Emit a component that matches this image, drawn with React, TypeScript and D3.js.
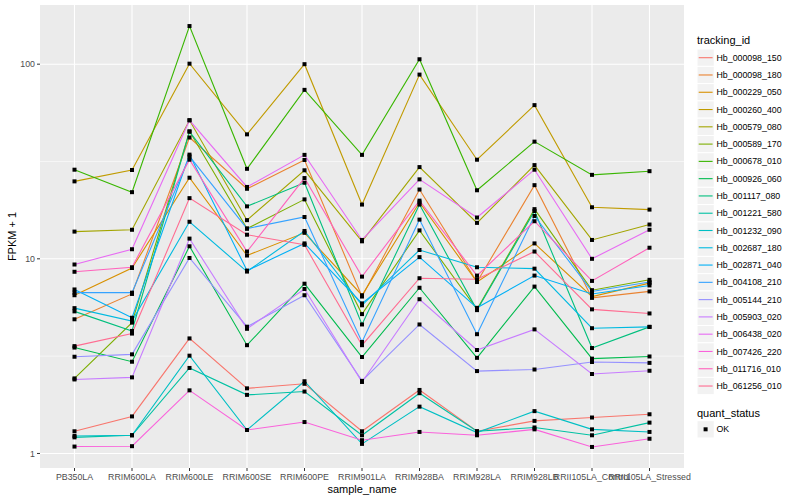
import { useEffect, useRef } from "react";
import * as d3 from "d3";

const samples = [
  "PB350LA", "RRIM600LA", "RRIM600LE", "RRIM600SE", "RRIM600PE", "RRIM901LA",
  "RRIM928BA", "RRIM928LA", "RRIM928LB", "RRII105LA_Control", "RRII105LA_Stressed",
];

const trackingIds = [
  "Hb_000098_150", "Hb_000098_180", "Hb_000229_050", "Hb_000260_400", "Hb_000579_080",
  "Hb_000589_170", "Hb_000678_010", "Hb_000926_060", "Hb_001117_080", "Hb_001221_580",
  "Hb_001232_090", "Hb_002687_180", "Hb_002871_040", "Hb_004108_210", "Hb_005144_210",
  "Hb_005903_020", "Hb_006438_020", "Hb_007426_220", "Hb_011716_010", "Hb_061256_010",
];

// ggplot default hue palette, 20 levels
const palette = [
  "#F8766D", "#EA8331", "#D89000", "#C09B00", "#A3A500", "#7CAE00", "#39B600", "#00BB4E",
  "#00BF7D", "#00C1A3", "#00BFC4", "#00BAE0", "#00B0F6", "#35A2FF", "#9590FF", "#C77CFF",
  "#E76BF3", "#FA62DB", "#FF62BC", "#FF6C91",
];

// FPKM + 1, one array per tracking id, in sample order
const hb000098_150 = [1.30, 1.55, 3.9, 2.16, 2.28, 1.30, 2.12, 1.30, 1.47, 1.53, 1.59];
const hb000098_180 = [4.89, 6.6, 42.0, 22.9, 32.2, 6.4, 22.7, 7.6, 23.9, 6.3, 6.8];
const hb000229_050 = [6.5, 8.97, 26.1, 10.4, 13.6, 6.5, 19.5, 7.6, 12.0, 6.4, 7.5];
const hb000260_400 = [25.0, 28.6, 100.6, 43.6, 100.0, 19.0, 88.4, 32.3, 61.6, 18.4, 17.9];
const hb000579_080 = [13.8, 14.1, 51.5, 15.8, 28.5, 12.3, 29.6, 15.3, 30.3, 12.5, 15.0];
const hb000589_170 = [2.43, 4.7, 45.2, 14.3, 20.2, 5.2, 14.0, 5.5, 18.0, 6.9, 7.8];
const hb000678_010 = [28.7, 22.0, 157, 29.0, 73.8, 34.2, 106, 22.5, 40.0, 27.0, 28.2];
const hb000926_060 = [3.5, 2.96, 11.6, 3.6, 7.45, 3.13, 7.1, 3.1, 7.2, 3.07, 3.15];
const hb001117_080 = [5.37, 4.26, 45.0, 18.6, 24.6, 4.6, 19.0, 5.45, 17.6, 3.48, 4.47];
const hb001221_580 = [1.21, 1.24, 2.75, 2.0, 2.08, 1.24, 2.04, 1.30, 1.36, 1.24, 1.44];
const hb001232_090 = [1.23, 1.24, 3.18, 1.32, 2.35, 1.12, 1.74, 1.28, 1.65, 1.33, 1.29];
const hb002687_180 = [5.58, 4.79, 15.5, 8.6, 13.9, 5.77, 11.1, 9.05, 8.9, 4.4, 4.47];
const hb002871_040 = [6.96, 4.98, 34.3, 8.7, 12.0, 5.9, 10.2, 5.6, 8.2, 6.6, 7.3];
const hb004108_210 = [6.7, 6.7, 33.6, 14.3, 16.4, 3.74, 15.9, 4.1, 16.6, 6.8, 7.6];
const hb005144_210 = [3.14, 3.23, 10.1, 4.48, 6.5, 2.36, 4.6, 2.65, 2.7, 2.95, 2.92];
const hb005903_020 = [2.4, 2.46, 12.7, 4.37, 7.0, 2.33, 6.2, 3.4, 4.34, 2.56, 2.66];
const hb006438_020 = [9.35, 11.2, 51.5, 23.4, 34.2, 12.5, 25.6, 16.3, 28.7, 10.0, 14.1];
const hb007426_220 = [1.085, 1.09, 2.11, 1.32, 1.45, 1.17, 1.29, 1.24, 1.33, 1.08, 1.19];
const hb011716_010 = [8.58, 9.05, 32.3, 10.9, 26.0, 8.1, 19.9, 8.2, 15.6, 7.7, 11.4];
const hb061256_010 = [3.56, 4.13, 20.5, 13.3, 11.8, 3.6, 7.95, 7.85, 10.9, 5.5, 5.24];

const seriesValues = [
  hb000098_150, hb000098_180, hb000229_050, hb000260_400, hb000579_080,
  hb000589_170, hb000678_010, hb000926_060, hb001117_080, hb001221_580,
  hb001232_090, hb002687_180, hb002871_040, hb004108_210, hb005144_210,
  hb005903_020, hb006438_020, hb007426_220, hb011716_010, hb061256_010,
];

const yTicks = [1, 10, 100];
const yMinor = [Math.pow(10, 0.5), Math.pow(10, 1.5)];

export default function App() {
  const svgRef = useRef<SVGSVGElement>(null);

  useEffect(() => {
    if (!svgRef.current) return;
    const svg = d3.select(svgRef.current);
    svg.selectAll("*").remove();

    const totalW = 800;
    const totalH = 500;
    const panel = { left: 40, right: 684, top: 5, bottom: 468 };
    const font = "'Liberation Sans', Arial, Helvetica, sans-serif";

    const x = d3.scalePoint<string>().domain(samples).range([panel.left, panel.right]).padding(0.6);

    const all = seriesValues.flat();
    const lo = Math.log10(d3.min(all) ?? 1);
    const hi = Math.log10(d3.max(all) ?? 100);
    const pad = (hi - lo) * 0.05;
    const y = d3.scaleLog()
      .domain([Math.pow(10, lo - pad), Math.pow(10, hi + pad)])
      .range([panel.bottom, panel.top]);

    svg.attr("width", totalW).attr("height", totalH);

    // panel background
    svg.append("rect")
      .attr("x", panel.left).attr("y", panel.top)
      .attr("width", panel.right - panel.left).attr("height", panel.bottom - panel.top)
      .attr("fill", "#EBEBEB");

    // grid
    svg.selectAll(".minor").data(yMinor).enter().append("line")
      .attr("x1", panel.left).attr("x2", panel.right)
      .attr("y1", (d) => y(d)).attr("y2", (d) => y(d))
      .attr("stroke", "#fff").attr("stroke-width", 0.55);
    svg.selectAll(".major-y").data(yTicks).enter().append("line")
      .attr("x1", panel.left).attr("x2", panel.right)
      .attr("y1", (d) => y(d)).attr("y2", (d) => y(d))
      .attr("stroke", "#fff").attr("stroke-width", 1.1);
    svg.selectAll(".major-x").data(samples).enter().append("line")
      .attr("x1", (d) => x(d)!).attr("x2", (d) => x(d)!)
      .attr("y1", panel.top).attr("y2", panel.bottom)
      .attr("stroke", "#fff").attr("stroke-width", 1.1);

    const plot = svg.append("g");
    const line = d3.line<number>()
      .x((_, i) => x(samples[i])!)
      .y((d) => y(d));

    seriesValues.forEach((vals, si) => {
      plot.append("path")
        .attr("d", line(vals))
        .attr("fill", "none")
        .attr("stroke", palette[si])
        .attr("stroke-width", 1.1);
    });

    seriesValues.forEach((vals) => {
      plot.selectAll(null).data(vals).enter().append("rect")
        .attr("x", (_, i) => x(samples[i])! - 2)
        .attr("y", (d) => y(d) - 2)
        .attr("width", 4).attr("height", 4)
        .attr("fill", "#000");
    });

    // axes
    const yAxis = svg.append("g");
    yTicks.forEach((t) => {
      yAxis.append("line")
        .attr("x1", panel.left - 3).attr("x2", panel.left)
        .attr("y1", y(t)).attr("y2", y(t))
        .attr("stroke", "#333").attr("stroke-width", 1);
      yAxis.append("text")
        .attr("x", panel.left - 5).attr("y", y(t) + 3.2)
        .attr("text-anchor", "end").attr("font-size", "8.8px").attr("font-family", font)
        .attr("fill", "#4D4D4D")
        .text(String(t));
    });

    const xAxis = svg.append("g");
    samples.forEach((s) => {
      xAxis.append("line")
        .attr("x1", x(s)!).attr("x2", x(s)!)
        .attr("y1", panel.bottom).attr("y2", panel.bottom + 3)
        .attr("stroke", "#333").attr("stroke-width", 1);
      xAxis.append("text")
        .attr("x", x(s)!).attr("y", panel.bottom + 12)
        .attr("text-anchor", "middle").attr("font-size", "8.8px").attr("font-family", font)
        .attr("fill", "#4D4D4D")
        .text(s);
    });

    svg.append("text")
      .attr("x", (panel.left + panel.right) / 2).attr("y", 492.5)
      .attr("text-anchor", "middle").attr("font-size", "11px").attr("font-family", font)
      .attr("fill", "#000")
      .text("sample_name");

    svg.append("text")
      .attr("transform", `translate(16,${(panel.top + panel.bottom) / 2}) rotate(-90)`)
      .attr("text-anchor", "middle").attr("font-size", "11px").attr("font-family", font)
      .attr("fill", "#000")
      .text("FPKM + 1");

    // legend: tracking_id
    const lg = svg.append("g");
    lg.append("text")
      .attr("x", 697).attr("y", 44)
      .attr("font-size", "11px").attr("font-family", font).attr("fill", "#000")
      .text("tracking_id");
    const keyH = 17.28;
    trackingIds.forEach((id, i) => {
      const cy = 57.7 + i * keyH;
      lg.append("rect")
        .attr("x", 697).attr("y", cy - keyH / 2)
        .attr("width", keyH).attr("height", keyH)
        .attr("fill", "#F2F2F2").attr("stroke", "#fff").attr("stroke-width", 1);
      lg.append("line")
        .attr("x1", 698.7).attr("x2", 712.6)
        .attr("y1", cy).attr("y2", cy)
        .attr("stroke", palette[i]).attr("stroke-width", 1.1);
      lg.append("text")
        .attr("x", 716.5).attr("y", cy + 3.1)
        .attr("font-size", "8.8px").attr("font-family", font).attr("fill", "#000")
        .text(id);
    });

    // legend: quant_status
    lg.append("text")
      .attr("x", 697).attr("y", 416.5)
      .attr("font-size", "11px").attr("font-family", font).attr("fill", "#000")
      .text("quant_status");
    lg.append("rect")
      .attr("x", 697).attr("y", 429.3 - keyH / 2)
      .attr("width", keyH).attr("height", keyH)
      .attr("fill", "#F2F2F2").attr("stroke", "#fff").attr("stroke-width", 1);
    lg.append("rect")
      .attr("x", 705.6 - 2).attr("y", 429.3 - 2)
      .attr("width", 4).attr("height", 4).attr("fill", "#000");
    lg.append("text")
      .attr("x", 716.5).attr("y", 432.4)
      .attr("font-size", "8.8px").attr("font-family", font).attr("fill", "#000")
      .text("OK");
  }, []);

  return (
    <div style={{ position: "fixed", left: 0, top: 0, width: 800, height: 500, background: "#fff" }}>
      <svg ref={svgRef} role="img" aria-label="FPKM + 1 by sample for 20 tracking ids" style={{ display: "block" }} />
    </div>
  );
}
